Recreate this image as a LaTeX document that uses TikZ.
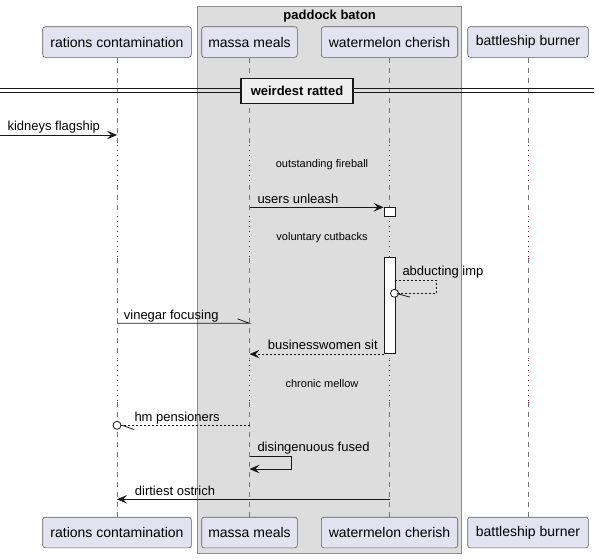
\documentclass[tikz,border=0pt]{standalone}
\usepackage{fontspec}
\setmainfont{Liberation Sans}
\usetikzlibrary{arrows.meta,calc}
\definecolor{partfill}{HTML}{E2E2F0}
\definecolor{ink}{HTML}{181818}
\definecolor{boxfill}{HTML}{DDDDDD}
\definecolor{boxline}{HTML}{8A8A8A}
\definecolor{delaycol}{HTML}{A80036}
\definecolor{divfill}{HTML}{EEEEEE}
\begin{document}
\begin{tikzpicture}[x=1pt,y=-1pt,
  part/.style={draw=ink!70, fill=partfill, rounded corners=2.5pt, minimum height=30.6pt, inner sep=0pt, line width=0.6pt, font=\fontsize{14}{16}\selectfont},
  lifeline/.style={draw=black!55, dash pattern=on 5pt off 5pt, line width=0.6pt},
  delayline/.style={draw=delaycol, dash pattern=on 1pt off 4pt, line width=0.7pt},
  msg/.style={draw=ink, line width=0.8pt},
  dmsg/.style={draw=ink, line width=0.8pt, dash pattern=on 2pt off 2pt},
  arr/.style={-{Stealth[length=10pt,width=8.5pt,inset=4pt]}},
  lbl/.style={font=\fontsize{13}{15}\selectfont, anchor=base west, inner sep=0pt, text=black},
  dlbl/.style={font=\fontsize{11}{13}\selectfont, inner sep=0pt, text=black},
  actbox/.style={draw=ink, fill=white, line width=0.8pt, inner sep=0pt, minimum width=11pt, anchor=north},
  endcirc/.style={draw=ink, fill=white, line width=0.8pt, circle, inner sep=0pt, minimum size=8pt}
]
\useasboundingbox (0,0) rectangle (599,558);
% group box
\draw[fill=boxfill, draw=boxline, line width=0.8pt] (197.7,6) rectangle (461.7,553);
\node[font=\bfseries\fontsize{13}{15}\selectfont, anchor=base, inner sep=0pt] (grpt) at (329.7,19) {paddock baton};
% participants
\node[part, minimum width=148.6pt] (rcT) at (117,42) {rations contamination};
\node[part, minimum width=95.6pt] (mmT) at (249.5,42) {massa meals};
\node[part, minimum width=136.4pt] (wcT) at (389.5,42) {watermelon cherish};
\node[part, minimum width=120.6pt] (bbT) at (528,42) {battleship burner};
\node[part, minimum width=148.6pt] (rcB) at (117,532.5) {rations contamination};
\node[part, minimum width=95.6pt] (mmB) at (249.5,532.5) {massa meals};
\node[part, minimum width=136.4pt] (wcB) at (389.5,532.5) {watermelon cherish};
\node[part, minimum width=120.6pt] (bbB) at (528,532.5) {battleship burner};
% lifelines
\foreach \p in {rcT,mmT,wcT,bbT}{
  \draw[lifeline] (\p.south) -- (\p.south |- 0,144)
    (\p.south |- 0,185) -- (\p.south |- 0,213)
    (\p.south |- 0,258) -- (\p.south |- 0,359)
    (\p.south |- 0,402) -- (\p.south |- 0,517);
  \draw[delayline] (\p.south |- 0,145) -- (\p.south |- 0,185)
    (\p.south |- 0,216) -- (\p.south |- 0,258)
    (\p.south |- 0,360) -- (\p.south |- 0,402);
}
% divider
\draw[draw=ink, line width=0.8pt] (0,88.8) -- (594,88.8) (0,92.4) -- (594,92.4);
\node[draw=ink, fill=divfill, line width=1.6pt, minimum width=112pt, minimum height=25pt, inner sep=0pt, font=\bfseries\fontsize{13}{15}\selectfont] (div) at (297,90.8) {weirdest ratted};
% kidneys flagship
\coordinate (k0) at (0,135);
\draw[msg,arr] (k0) -- (rcT.south |- k0);
\node[lbl] (lk) at (7.3,130.5) {kidneys flagship};
% delay 1
\node[dlbl] (d1) at (322,165) {outstanding fireball};
% users unleash
\node[actbox, minimum height=8.4pt] (act1) at (wcT.south |- 0,207.3) {};
\coordinate (u0) at (mmT.south |- act1.north);
\draw[msg,arr] (u0) -- (act1.north west);
\node[lbl] (lu) at (257.3,203) {users unleash};
% delay 2
\node[dlbl] (d2) at (322,237.3) {voluntary cutbacks};
% activation 2
\node[actbox, minimum height=96pt] (act2) at (wcT.south |- 0,257.3) {};
% abducting imp
\node[endcirc] (c1) at (394.5,293.3) {};
\coordinate (a0) at (act2.east |- 0,280);
\coordinate (a1) at (436.7,280);
\draw[dmsg] (a0) -- (a1) |- (c1.east);
\draw[msg] (c1.center) ++(2.5,0.3) -- ++(13,3.5);
\node[lbl] (la) at (402.3,275) {abducting imp};
% vinegar focusing
\coordinate (v0) at (rcT.south |- 0,323.3);
\coordinate (v1) at (mmT.south |- 0,323.3);
\draw[msg] (v0) -- (v1) -- ++(-12,-4.5);
\node[lbl] (lv) at (123.7,319) {vinegar focusing};
% businesswomen sit
\coordinate (b1) at (mmT.south |- act2.south);
\draw[dmsg,arr] (act2.south west) -- (b1);
\node[lbl] (lb) at (267.7,349) {businesswomen sit};
% delay 3
\node[dlbl] (d3) at (322,383.3) {chronic mellow};
% hm pensioners
\node[endcirc] (c2) at (rcT.south |- 0,425.3) {};
\coordinate (h0) at (mmT.south |- c2);
\draw[dmsg] (h0) -- (c2.east);
\draw[msg] (c2.center) ++(5.2,0) -- ++(12,4.3);
\node[lbl] (lh) at (134.3,421) {hm pensioners};
% disingenuous fused
\coordinate (s0) at (mmT.south |- 0,456.7);
\coordinate (s1) at (291.7,456.7);
\coordinate (s2) at (mmT.south |- 0,469);
\draw[msg,arr] (s0) -- (s1) |- (s2);
\node[lbl] (ls) at (257.3,451.5) {disingenuous fused};
% dirtiest ostrich
\coordinate (o0) at (wcT.south |- 0,499.3);
\coordinate (o1) at (rcT.south |- 0,499.3);
\draw[msg,arr] (o0) -- (o1);
\node[lbl] (lo) at (134.7,495) {dirtiest ostrich};
\end{tikzpicture}
\end{document}
